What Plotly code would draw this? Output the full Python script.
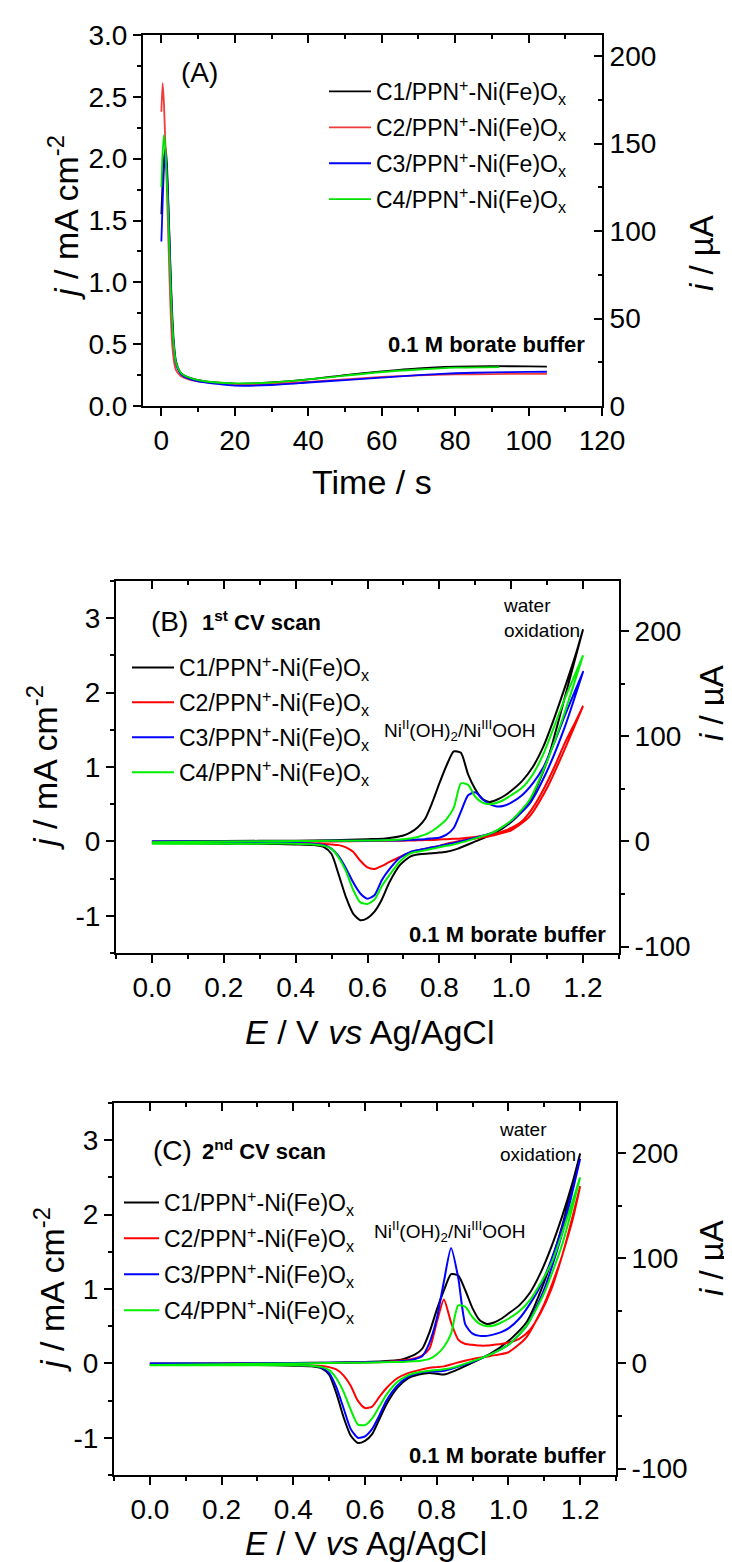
import plotly.graph_objects as go

W, H = 732, 1562
FONT = "Liberation Sans, Arial, sans-serif"
AREA = 70.7  # uA per mA cm-2 (right-axis conversion)

NAMES = ["C1/PPN<sup>+</sup>-Ni(Fe)O<sub>x</sub>", "C2/PPN<sup>+</sup>-Ni(Fe)O<sub>x</sub>",
         "C3/PPN<sup>+</sup>-Ni(Fe)O<sub>x</sub>", "C4/PPN<sup>+</sup>-Ni(Fe)O<sub>x</sub>"]
COLORS_A = ["#000000", "#F03C3C", "#0000FF", "#00E000"]
COLORS_CV = ["#000000", "#FF0000", "#0000FF", "#00F000"]

# ---------------- Panel A : chronoamperometry ----------------
tA_C1 = [0, 0.4, 0.8, 1.2, 1.6, 2.0, 2.5, 3.0, 3.5, 4, 5, 6, 7, 8, 10, 12, 15, 20, 25, 30, 40, 50, 60, 70, 80, 90, 100, 105]
jA_C1 = [1.55, 1.85, 2.02, 2.09, 1.9, 1.55, 1.1, 0.72, 0.48, 0.36, 0.28, 0.25, 0.235, 0.225, 0.21, 0.2, 0.19, 0.18, 0.182, 0.19, 0.215, 0.25, 0.28, 0.305, 0.318, 0.322, 0.32, 0.318]
tA_C2 = [0, 0.35, 0.7, 1.0, 1.4, 1.8, 2.2, 2.6, 3.0, 3.5, 4, 5, 6, 8, 10, 15, 20, 30, 40, 50, 60, 70, 80, 90, 100, 105]
jA_C2 = [2.38, 2.61, 2.45, 2.2, 1.85, 1.45, 1.05, 0.7, 0.48, 0.35, 0.29, 0.25, 0.23, 0.21, 0.2, 0.185, 0.178, 0.18, 0.195, 0.215, 0.235, 0.248, 0.255, 0.258, 0.26, 0.26]
tA_C3 = [0, 0.3, 0.6, 0.9, 1.1, 1.4, 1.8, 2.2, 2.6, 3.0, 3.5, 4, 5, 6, 8, 10, 15, 20, 30, 40, 50, 60, 70, 80, 90, 100, 105]
jA_C3 = [1.33, 1.6, 1.85, 2.0, 2.05, 1.95, 1.7, 1.35, 0.95, 0.65, 0.45, 0.34, 0.27, 0.24, 0.215, 0.2, 0.18, 0.165, 0.17, 0.19, 0.21, 0.23, 0.25, 0.265, 0.272, 0.276, 0.277]
tA_C4 = [0, 0.35, 0.7, 1.0, 1.4, 1.8, 2.2, 2.6, 3.0, 3.5, 4, 5, 6, 8, 10, 15, 20, 30, 40, 50, 60, 70, 80, 92]
jA_C4 = [1.77, 2.05, 2.19, 2.12, 1.9, 1.6, 1.25, 0.9, 0.65, 0.45, 0.35, 0.28, 0.25, 0.225, 0.21, 0.19, 0.183, 0.19, 0.215, 0.245, 0.275, 0.295, 0.31, 0.315]

# ---------------- Panels B and C : cyclic voltammograms ----------------
E_FWD = [0.0, 0.2, 0.4, 0.5, 0.6, 0.65, 0.7, 0.72, 0.74, 0.76, 0.78, 0.80, 0.82, 0.84, 0.86,
         0.88, 0.90, 0.92, 0.94, 0.96, 0.98, 1.00, 1.03, 1.06, 1.09, 1.12, 1.15, 1.18, 1.20]
E_REV = [1.20, 1.15, 1.10, 1.05, 1.00, 0.95, 0.90, 0.85, 0.82, 0.80, 0.78, 0.75, 0.72, 0.69, 0.66,
         0.64, 0.62, 0.60, 0.58, 0.56, 0.54, 0.52, 0.50, 0.48, 0.45, 0.40, 0.30, 0.20, 0.10, 0.0]

# 1st scan
jB_C1_fwd = [0.0, 0.005, 0.01, 0.015, 0.03, 0.04, 0.08, 0.12, 0.19, 0.3, 0.52, 0.78, 1.02, 1.21, 1.19,
             0.9, 0.7, 0.57, 0.53, 0.56, 0.61, 0.68, 0.81, 1.0, 1.28, 1.66, 2.08, 2.52, 2.85]
jB_C1_rev = [2.85, 1.95, 1.08, 0.52, 0.26, 0.1, 0.0, -0.1, -0.14, -0.15, -0.16, -0.17, -0.2, -0.32, -0.56,
             -0.78, -0.94, -1.03, -1.06, -0.97, -0.75, -0.45, -0.17, -0.08, -0.05, -0.04, -0.03, -0.03, -0.025, -0.02]
jB_C2_fwd = [-0.01, -0.005, 0.0, 0.0, 0.005, 0.008, 0.01, 0.012, 0.015, 0.018, 0.02, 0.025, 0.03, 0.035, 0.04,
             0.05, 0.06, 0.075, 0.09, 0.11, 0.14, 0.18, 0.27, 0.45, 0.7, 1.0, 1.33, 1.62, 1.82]
jB_C2_rev = [1.82, 1.25, 0.72, 0.33, 0.15, 0.08, 0.04, 0.0, -0.03, -0.06, -0.08, -0.11, -0.15, -0.21, -0.28,
             -0.33, -0.37, -0.35, -0.26, -0.14, -0.08, -0.05, -0.04, -0.035, -0.03, -0.025, -0.02, -0.02, -0.02, -0.02]
jB_C3_fwd = [0.0, 0.0, 0.005, 0.008, 0.01, 0.012, 0.015, 0.02, 0.025, 0.03, 0.04, 0.05, 0.09, 0.18, 0.4,
             0.62, 0.66, 0.57, 0.5, 0.47, 0.48, 0.52, 0.62, 0.78, 1.0, 1.33, 1.7, 2.05, 2.28]
jB_C3_rev = [2.28, 1.55, 0.95, 0.5, 0.27, 0.12, 0.05, -0.01, -0.04, -0.06, -0.08, -0.11, -0.14, -0.22, -0.38,
             -0.52, -0.72, -0.77, -0.7, -0.55, -0.36, -0.2, -0.1, -0.05, -0.03, -0.02, -0.02, -0.02, -0.02, -0.02]
jB_C4_fwd = [-0.01, 0.0, 0.005, 0.008, 0.012, 0.015, 0.03, 0.04, 0.06, 0.09, 0.14, 0.21, 0.3, 0.45, 0.78,
             0.76, 0.6, 0.52, 0.5, 0.52, 0.56, 0.62, 0.72, 0.9, 1.18, 1.55, 1.93, 2.27, 2.5]
jB_C4_rev = [2.5, 1.75, 1.08, 0.55, 0.28, 0.12, 0.04, -0.03, -0.06, -0.08, -0.1, -0.13, -0.16, -0.27, -0.46,
             -0.6, -0.78, -0.84, -0.82, -0.65, -0.4, -0.22, -0.1, -0.06, -0.04, -0.03, -0.03, -0.03, -0.03, -0.03]

# 2nd scan
jC_C1_fwd = [0.0, 0.0, 0.005, 0.01, 0.02, 0.03, 0.05, 0.08, 0.12, 0.2, 0.42, 0.72, 0.98, 1.2, 1.18,
             0.98, 0.74, 0.58, 0.53, 0.55, 0.6, 0.67, 0.78, 0.95, 1.22, 1.57, 1.98, 2.45, 2.82]
jC_C1_rev = [2.82, 1.85, 1.1, 0.55, 0.3, 0.13, 0.01, -0.1, -0.15, -0.14, -0.13, -0.15, -0.2, -0.33, -0.55,
             -0.75, -0.95, -1.04, -1.07, -0.97, -0.72, -0.4, -0.15, -0.07, -0.04, -0.03, -0.02, -0.02, -0.02, -0.02]
jC_C2_fwd = [-0.01, -0.005, 0.0, 0.005, 0.015, 0.02, 0.04, 0.05, 0.07, 0.11, 0.2, 0.55, 0.86, 0.55, 0.32,
             0.26, 0.25, 0.24, 0.24, 0.25, 0.26, 0.28, 0.33, 0.45, 0.68, 1.0, 1.45, 1.95, 2.38]
jC_C2_rev = [2.38, 1.45, 0.8, 0.35, 0.15, 0.1, 0.06, 0.0, -0.04, -0.05, -0.06, -0.09, -0.13, -0.2, -0.33,
             -0.45, -0.58, -0.6, -0.5, -0.3, -0.16, -0.08, -0.05, -0.035, -0.03, -0.02, -0.02, -0.02, -0.02, -0.02]
jC_C3_fwd = [0.0, 0.0, 0.005, 0.008, 0.015, 0.02, 0.03, 0.04, 0.06, 0.1, 0.28, 0.6, 1.1, 1.55, 1.15,
             0.52, 0.4, 0.37, 0.37, 0.39, 0.42, 0.47, 0.6, 0.8, 1.05, 1.4, 1.83, 2.35, 2.75]
jC_C3_rev = [2.75, 1.75, 1.0, 0.5, 0.25, 0.12, 0.02, -0.06, -0.1, -0.11, -0.11, -0.13, -0.18, -0.3, -0.5,
             -0.7, -0.88, -0.98, -1.0, -0.88, -0.6, -0.32, -0.13, -0.06, -0.03, -0.02, -0.02, -0.015, -0.01, -0.01]
jC_C4_fwd = [-0.02, -0.01, 0.0, 0.005, 0.01, 0.015, 0.02, 0.025, 0.03, 0.04, 0.06, 0.12, 0.22, 0.4, 0.78,
             0.76, 0.62, 0.53, 0.5, 0.51, 0.55, 0.6, 0.7, 0.85, 1.08, 1.35, 1.75, 2.2, 2.5]
jC_C4_rev = [2.5, 1.6, 0.95, 0.5, 0.25, 0.12, 0.03, -0.05, -0.08, -0.09, -0.1, -0.12, -0.16, -0.25, -0.42,
             -0.58, -0.74, -0.83, -0.82, -0.62, -0.38, -0.2, -0.09, -0.05, -0.03, -0.025, -0.025, -0.025, -0.025, -0.025]

# tick labels (hyphen minus as in the original)
J_TICKS = [-1, 0, 1, 2, 3]
J_TEXT = ["-1", "0", "1", "2", "3"]
I_TICKS = [-100, 0, 100, 200]
I_TEXT = ["-100", "0", "100", "200"]

# ---------------- layout helpers ----------------
def PX(x):
    return x / W


def PY(y):
    return 1 - y / H


fig = go.Figure()

tA = [tA_C1, tA_C2, tA_C3, tA_C4]
jA = [jA_C1, jA_C2, jA_C3, jA_C4]
for k in range(4):
    fig.add_trace(go.Scatter(x=tA[k], y=jA[k], mode="lines", name=NAMES[k],
                             line=dict(color=COLORS_A[k], width=1.8, shape="spline", smoothing=0.6),
                             xaxis="x", yaxis="y", legend="legend", legendgroup="A%d" % k))
# same current expressed in uA on the right/top axes - transparent, only carries those axes
fig.add_trace(go.Scatter(x=tA_C1, y=[v * AREA for v in jA_C1], mode="lines", showlegend=False,
                         hoverinfo="skip", opacity=0, line=dict(width=0), xaxis="x4", yaxis="y2"))

cvB = [(jB_C1_fwd, jB_C1_rev), (jB_C2_fwd, jB_C2_rev), (jB_C3_fwd, jB_C3_rev), (jB_C4_fwd, jB_C4_rev)]
cvC = [(jC_C1_fwd, jC_C1_rev), (jC_C2_fwd, jC_C2_rev), (jC_C3_fwd, jC_C3_rev), (jC_C4_fwd, jC_C4_rev)]
for k in range(4):
    fig.add_trace(go.Scatter(x=E_FWD + E_REV, y=cvB[k][0] + cvB[k][1], mode="lines", name=NAMES[k],
                             line=dict(color=COLORS_CV[k], width=2, shape="spline", smoothing=0.6),
                             xaxis="x2", yaxis="y3", legend="legend2", legendgroup="B%d" % k))
fig.add_trace(go.Scatter(x=E_FWD + E_REV, y=[v * AREA for v in jB_C1_fwd + jB_C1_rev], mode="lines",
                         showlegend=False, hoverinfo="skip", opacity=0, line=dict(width=0),
                         xaxis="x5", yaxis="y4"))
for k in range(4):
    fig.add_trace(go.Scatter(x=E_FWD + E_REV, y=cvC[k][0] + cvC[k][1], mode="lines", name=NAMES[k],
                             line=dict(color=COLORS_CV[k], width=2, shape="spline", smoothing=0.6),
                             xaxis="x3", yaxis="y5", legend="legend3", legendgroup="C%d" % k))
fig.add_trace(go.Scatter(x=E_FWD + E_REV, y=[v * AREA for v in jC_C1_fwd + jC_C1_rev], mode="lines",
                         showlegend=False, hoverinfo="skip", opacity=0, line=dict(width=0),
                         xaxis="x6", yaxis="y6"))

TICKF = dict(family=FONT, size=28, color="black")


def mn(dt, t0=0, side="outside"):
    return dict(tickmode="linear", tick0=t0, dtick=dt, ticks=side, ticklen=4, tickwidth=2, tickcolor="black")


def ax(**kw):
    base = dict(showgrid=False, zeroline=False, showline=True, linecolor="black", linewidth=2,
                ticks="outside", ticklen=8, tickwidth=2, tickcolor="black", tickfont=TICKF,
                automargin=False, fixedrange=True)
    base.update(kw)
    return base


xdA = [PX(135), PX(594)]
ydA = [PY(398), PY(27)]
xdB = [PX(108), PX(611)]
ydB = [PY(945), PY(573)]
xdC = [PX(106), PX(608)]
ydC = [PY(1467), PY(1095)]

layout = dict(
    width=W, height=H, margin=dict(l=0, r=0, t=0, b=0, autoexpand=False),
    paper_bgcolor="white", plot_bgcolor="white", showlegend=True,
    font=dict(family=FONT, color="black"),
    # ----- A -----
    xaxis=ax(domain=xdA, anchor="y", range=[-5, 120], dtick=20, tick0=0, minor=mn(10)),
    yaxis=ax(domain=ydA, anchor="x", range=[0, 3], dtick=0.5, tickformat=".1f", minor=mn(0.25)),
    yaxis2=ax(overlaying="y", side="right", anchor="x", range=[0, 3 * AREA], dtick=50, ticks="inside",
              minor=mn(25, 0, "inside")),
    xaxis4=ax(overlaying="x", side="top", anchor="y", range=[-5, 120], dtick=20, tick0=0, ticks="inside",
              showticklabels=False, minor=mn(10, 0, "inside")),
    # ----- B -----
    xaxis2=ax(domain=xdB, anchor="y3", range=[-0.1, 1.3], dtick=0.2, tick0=0, tickformat=".1f", minor=mn(0.1)),
    yaxis3=ax(domain=ydB, anchor="x2", range=[-1.5, 3.5], tickmode="array", tickvals=J_TICKS, ticktext=J_TEXT,
              minor=mn(0.5, -1.5)),
    yaxis4=ax(overlaying="y3", side="right", anchor="x2", range=[-1.5 * AREA, 3.5 * AREA],
              tickmode="array", tickvals=I_TICKS, ticktext=I_TEXT, minor=mn(50, 0)),
    xaxis5=ax(overlaying="x2", side="top", anchor="y3", range=[-0.1, 1.3], dtick=0.2, tick0=0, ticks="inside",
              showticklabels=False, minor=mn(0.1, 0, "inside")),
    # ----- C -----
    xaxis3=ax(domain=xdC, anchor="y5", range=[-0.1, 1.3], dtick=0.2, tick0=0, tickformat=".1f", minor=mn(0.1)),
    yaxis5=ax(domain=ydC, anchor="x3", range=[-1.5, 3.5], tickmode="array", tickvals=J_TICKS, ticktext=J_TEXT,
              minor=mn(0.5, -1.5)),
    yaxis6=ax(overlaying="y5", side="right", anchor="x3", range=[-1.5 * AREA, 3.5 * AREA],
              tickmode="array", tickvals=I_TICKS, ticktext=I_TEXT, minor=mn(50, 0)),
    xaxis6=ax(overlaying="x3", side="top", anchor="y5", range=[-0.1, 1.3], dtick=0.2, tick0=0, ticks="inside",
              showticklabels=False, minor=mn(0.1, 0, "inside")),
)

LEGF = dict(family=FONT, size=23, color="black")
layout["legend"] = dict(x=PX(316), y=PY(62), xanchor="left", yanchor="top", font=LEGF,
                        bgcolor="rgba(0,0,0,0)", traceorder="grouped", tracegroupgap=3, itemwidth=42)
layout["legend2"] = dict(x=PX(119), y=PY(638), xanchor="left", yanchor="top", font=LEGF,
                         bgcolor="rgba(0,0,0,0)", traceorder="grouped", tracegroupgap=2, itemwidth=42)
layout["legend3"] = dict(x=PX(111), y=PY(1173), xanchor="left", yanchor="top", font=LEGF,
                         bgcolor="rgba(0,0,0,0)", traceorder="grouped", tracegroupgap=3, itemwidth=35)

fig.update_layout(**layout)


def note(text, x, y, size=22, bold=False, xanchor="left", angle=0, align="left"):
    if bold:
        text = "<b>" + text + "</b>"
    fig.add_annotation(text=text, xref="paper", yref="paper", x=PX(x), y=PY(y), showarrow=False,
                       xanchor=xanchor, yanchor="middle", textangle=angle, align=align,
                       font=dict(family=FONT, size=size, color="black"))


J_TITLE = "<i>j</i> / mA cm<sup>-2</sup>"
I_TITLE = "<i>i</i> / µA"
E_TITLE = "<i>E</i> / V <i>vs</i> Ag/AgCl"

# Panel A texts
note("Time / s", 364, 474, size=34, xanchor="center")
note(J_TITLE, 55, 210, size=34, xanchor="center", angle=-90)
note(I_TITLE, 693, 245, size=33, xanchor="center", angle=-90)
note("(A)", 171, 65, size=28)
note("0.1 M borate buffer", 579, 336, size=22, bold=True, xanchor="right")
# Panel B texts
note(E_TITLE, 361, 1024, size=34, xanchor="center")
note(J_TITLE, 34, 760, size=34, xanchor="center", angle=-90)
note(I_TITLE, 703, 695, size=33, xanchor="center", angle=-90)
note("(B)", 141, 613, size=28)
note("1<sup>st</sup> CV scan", 192, 613, size=22, bold=True)
note("water<br>oxidation", 493, 610, size=19)
note("Ni<sup>II</sup>(OH)<sub>2</sub>/Ni<sup>III</sup>OOH", 374, 722, size=19)
note("0.1 M borate buffer", 600, 926, size=22, bold=True, xanchor="right")
# Panel C texts
note(E_TITLE, 358, 1535, size=33, xanchor="center")
note(J_TITLE, 41, 1282, size=34, xanchor="center", angle=-90)
note(I_TITLE, 703, 1250, size=33, xanchor="center", angle=-90)
note("(C)", 143, 1142, size=28)
note("2<sup>nd</sup> CV scan", 192, 1142, size=22, bold=True)
note("water<br>oxidation", 489, 1134, size=19)
note("Ni<sup>II</sup>(OH)<sub>2</sub>/Ni<sup>III</sup>OOH", 364, 1223, size=19)
note("0.1 M borate buffer", 600, 1447, size=22, bold=True, xanchor="right")

fig.write_html("out.html", config={"staticPlot": True})
